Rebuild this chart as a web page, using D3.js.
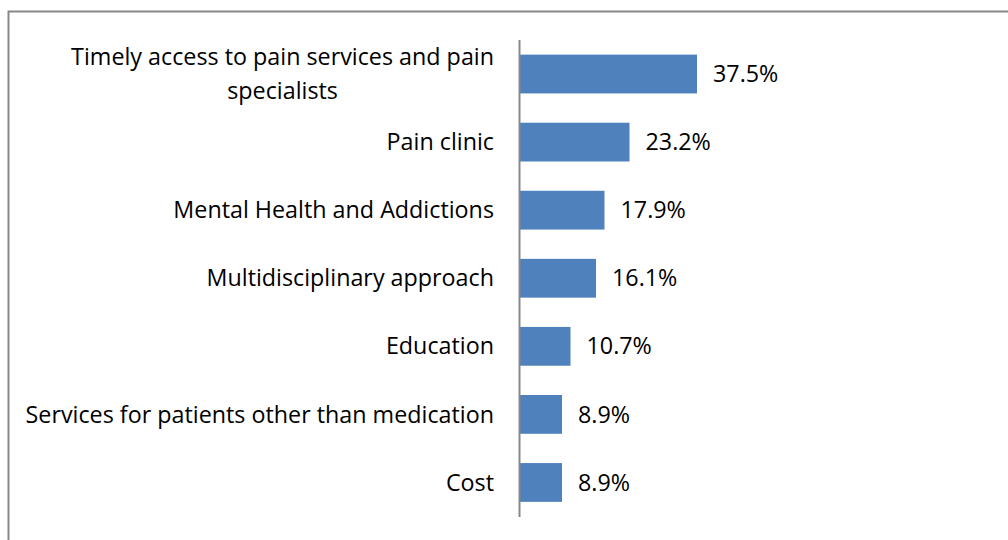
<!DOCTYPE html>
<html>
<head>
<meta charset="utf-8">
<script src="https://cdn.jsdelivr.net/npm/d3@7"></script>
<style>
  body { margin: 0; background: #fff; }
  svg text { font-family: "Open Sans", sans-serif; fill: #000; }
</style>
</head>
<body>
<script>
(function(){

    var categories = [
        ["Timely access to pain services and pain", "specialists"],
        ["Pain clinic"],
        ["Mental Health and Addictions"],
        ["Multidisciplinary approach"],
        ["Education"],
        ["Services for patients other than medication"],
        ["Cost"]
    ];
    var values = [37.5, 23.2, 17.9, 16.1, 10.7, 8.9, 8.9];
    var valueLabels = ["37.5%", "23.2%", "17.9%", "16.1%", "10.7%", "8.9%", "8.9%"];

    window.onload = drawChart();

    function drawChart() {
        var width = 1008,
            height = 540;

        var svg = d3.select("body")
            .append("svg")
            .attr("width", width)
            .attr("height", height);

        // chart border (runs off the right and bottom edge)
        svg.append("rect")
            .attr("x", 8.5)
            .attr("y", 11.5)
            .attr("width", 1010)
            .attr("height", 540)
            .attr("fill", "none")
            .attr("stroke", "#888")
            .attr("stroke-width", 2);

        var x = d3.scaleLinear()
            .domain([0, 37.5])
            .range([520, 697]);

        var y = d3.scaleBand()
            .domain(d3.range(categories.length))
            .range([40, 516.5])
            .paddingInner(0.43)
            .paddingOuter(0.215);

        svg.selectAll(".bar")
            .data(values)
            .enter()
            .append("rect")
            .attr("class", "bar")
            .attr("x", x(0))
            .attr("y", function(d, i){ return y(i); })
            .attr("width", function(d){ return x(d) - x(0); })
            .attr("height", y.bandwidth())
            .attr("fill", "#4F81BD");

        svg.selectAll(".val")
            .data(values)
            .enter()
            .append("text")
            .attr("class", "val")
            .attr("x", function(d){ return x(d) + 16; })
            .attr("y", function(d, i){ return y(i) + y.bandwidth() / 2; })
            .attr("dy", "0.35em")
            .style("font-size", "23.3px")
            .text(function(d, i){ return valueLabels[i]; });

        // category labels, right aligned against the axis
        var labels = svg.selectAll(".cat")
            .data(categories)
            .enter()
            .append("text")
            .attr("class", "cat")
            .attr("text-anchor", "middle")
            .style("font-size", "23.3px")
            .attr("y", function(d, i){ return y(i) + y.bandwidth() / 2; });

        labels.each(function(lines){
            var t = d3.select(this);
            var n = lines.length;
            var maxW = 0;
            lines.forEach(function(line, k){
                var ts = t.append("tspan")
                    .attr("dy", k == 0 ? (0.35 - (n - 1) * 0.72) + "em" : "1.42em")
                    .text(line);
                maxW = Math.max(maxW, ts.node().getComputedTextLength());
            });
            // right-align the block, centre the lines within it
            t.selectAll("tspan").attr("x", 494 - maxW / 2);
        });

        svg.append("line")
            .attr("x1", 519.5)
            .attr("x2", 519.5)
            .attr("y1", 40)
            .attr("y2", 517)
            .attr("stroke", "#888")
            .attr("stroke-width", 2);
    };

})()
</script>
</body>
</html>
